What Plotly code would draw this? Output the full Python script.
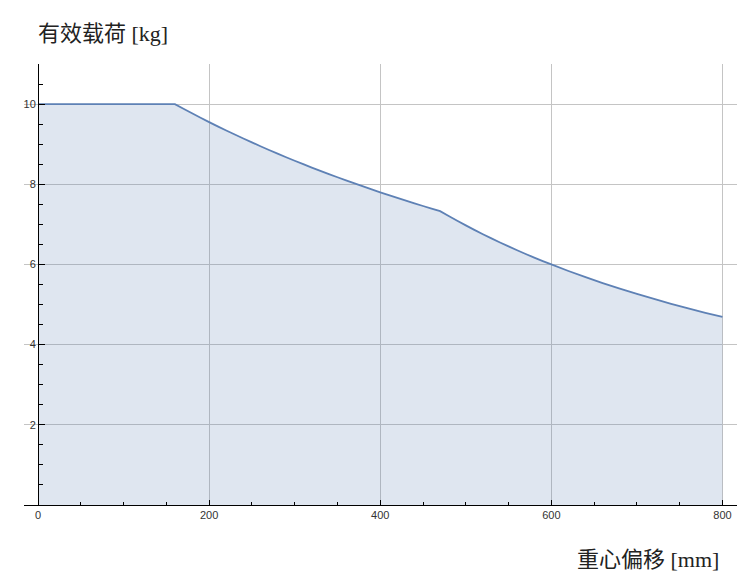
import plotly.graph_objects as go

# Data
offset_mm = [0, 160, 170, 180, 190, 200, 210, 220, 230, 240, 250, 260, 270, 280, 290, 300,
             310, 320, 330, 340, 350, 360, 370, 380, 390, 400, 410, 420, 430, 440, 450, 460, 470,
             480, 490, 500, 510, 520, 530, 540, 550, 560, 570, 580, 590, 600,
             620, 640, 660, 680, 700, 720, 740, 760, 780, 800]
payload_kg = [10.0, 10.0, 9.884, 9.770, 9.659, 9.551, 9.445, 9.341, 9.240, 9.141, 9.044, 8.949, 8.855,
              8.764, 8.675, 8.587, 8.501, 8.417, 8.335, 8.254, 8.175, 8.097, 8.021, 7.946, 7.872,
              7.800, 7.729, 7.660, 7.591, 7.524, 7.458, 7.394, 7.330,
              7.208, 7.089, 6.974, 6.863, 6.755, 6.650, 6.549, 6.450, 6.355, 6.262, 6.172, 6.085, 6.000,
              5.837, 5.683, 5.536, 5.397, 5.265, 5.139, 5.019, 4.904, 4.795, 4.690]

x_ticks = [0, 200, 400, 600, 800]
x_tick_labels = ["0", "200", "400", "600", "800"]
y_ticks = [2, 4, 6, 8, 10]
y_tick_labels = ["2", "4", "6", "8", "10"]
x_minor = [50, 100, 150, 250, 300, 350, 450, 500, 550, 650, 700, 750]
y_minor = [0.5, 1, 1.5, 2.5, 3, 3.5, 4.5, 5, 5.5, 6.5, 7, 7.5, 8.5, 9, 9.5, 10.5, 11]

x_title = "重心偏移 [mm]"
y_title = "有效载荷 [kg]"

LINE = "#5e81b5"
GRID = "#c4c4c4"
TITLE_FONT = dict(family="Liberation Serif, Noto Sans CJK SC, serif", size=22, color="#222222")
TICK_FONT = dict(family="Liberation Sans, Arial, sans-serif", size=11, color="#333333")

fig = go.Figure()
fig.add_trace(go.Scatter(
    x=offset_mm, y=payload_kg, mode="lines",
    line=dict(color=LINE, width=1.8, shape="linear", simplify=False),
    fill="tozeroy", fillcolor="rgba(94,129,181,0.2)",
    hoverinfo="skip", showlegend=False,
))

W, H = 752, 583
ml, mr, mt, mb = 24, 15, 64, 78
pw = W - ml - mr
ph = H - mt - mb
x_lo, x_hi = -16.4, 817
y_pos = (0 - x_lo) / (x_hi - x_lo)

fig.update_layout(
    width=W, height=H,
    margin=dict(l=ml, r=mr, t=mt, b=mb, pad=0, autoexpand=False),
    paper_bgcolor="white", plot_bgcolor="white",
    xaxis=dict(
        range=[x_lo, x_hi], showgrid=True, gridcolor=GRID, gridwidth=1,
        zeroline=False, showline=True, linecolor="black", linewidth=1,
        automargin=False,
        tickmode="array", tickvals=x_ticks, ticktext=x_tick_labels,
        ticks="inside", ticklen=5, tickcolor="black", tickfont=TICK_FONT,
        minor=dict(tickmode="array", tickvals=x_minor, ticks="inside", ticklen=3,
                   tickcolor="black", showgrid=False),
    ),
    yaxis=dict(
        range=[0, 11], showgrid=True, gridcolor=GRID, gridwidth=1,
        zeroline=False, showline=True, linecolor="black", linewidth=1,
        automargin=False,
        anchor="free", position=y_pos,
        tickmode="array", tickvals=y_ticks, ticktext=y_tick_labels,
        ticks="inside", ticklen=6, tickcolor="black", tickfont=TICK_FONT,
        minor=dict(tickmode="array", tickvals=y_minor, ticks="inside", ticklen=4,
                   tickcolor="black", showgrid=False),
    ),
    annotations=[
        dict(text=y_title, xref="paper", yref="paper",
             x=(36 - ml) / pw, y=1 + (mt - 33) / ph, xanchor="left", yanchor="middle",
             showarrow=False, font=TITLE_FONT),
        dict(text=x_title, xref="paper", yref="paper",
             x=(721 - ml) / pw, y=-(559 - (H - mb)) / ph, xanchor="right", yanchor="middle",
             showarrow=False, font=TITLE_FONT),
    ],
)

fig.write_html(
    "out.html",
    config={"displayModeBar": False},
    post_script="document.body.style.margin='0px';document.body.style.overflow='hidden';",
)
